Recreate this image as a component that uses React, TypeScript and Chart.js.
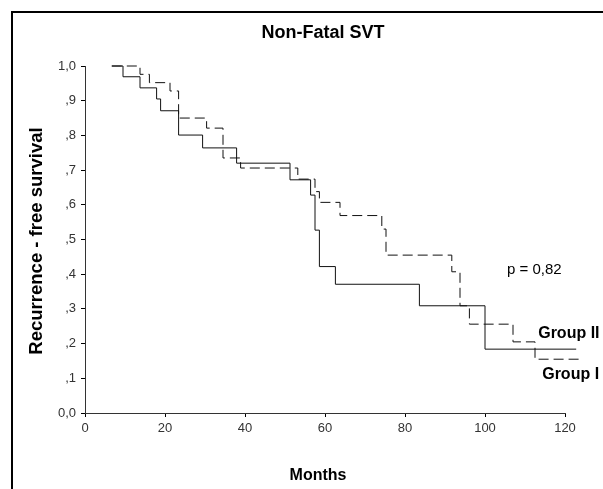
import React, { useEffect, useRef } from "react";
import { Chart, registerables } from "chart.js";

Chart.register(...registerables);

// Kaplan-Meier step curves (time in months, survival proportion after the drop)
const groupIITimes = [6.7, 9.5, 13.75, 17.9, 18.9, 23.4, 29.4, 37.9, 51.25, 56.4, 57.5, 58.6, 62.6, 83.6, 100, 122.8];
const groupIISurvival = [1.0, 0.969, 0.937, 0.905, 0.871, 0.801, 0.764, 0.72, 0.672, 0.628, 0.527, 0.422, 0.371, 0.309, 0.184, 0.184];

const groupITimes = [6.7, 13.75, 16.1, 21.25, 23.4, 30.4, 34.5, 38.9, 53.2, 57.5, 58.6, 63.75, 74.2, 75.25, 91.7, 93.75, 96.1, 107, 112.5, 123.5];
const groupISurvival = [1.0, 0.976, 0.952, 0.928, 0.85, 0.821, 0.735, 0.706, 0.674, 0.638, 0.607, 0.569, 0.53, 0.455, 0.407, 0.309, 0.256, 0.205, 0.155, 0.155];

const xTickValues = [0, 20, 40, 60, 80, 100, 120];
const yTickLabels = ["0,0", ",1", ",2", ",3", ",4", ",5", ",6", ",7", ",8", ",9", "1,0"];

const chartTitle = "Non-Fatal SVT";
const xTitle = "Months";
const yTitle = "Recurrence - free survival";
const pLabel = "p = 0,82";
const groupIILabel = "Group II";
const groupILabel = "Group I";

const FONT = "'Liberation Sans', Arial, sans-serif";

const decorPlugin = {
  id: "decor",
  afterDraw(chart: any) {
    const ctx = chart.ctx as CanvasRenderingContext2D;
    const xs = chart.scales.x;
    const ys = chart.scales.y;
    ctx.save();
    // frame
    ctx.fillStyle = "#000";
    ctx.fillRect(11, 11, 603 - 11, 2);
    ctx.fillRect(11, 11, 2, 489 - 11);
    // title
    ctx.fillStyle = "#000";
    ctx.textAlign = "center";
    ctx.textBaseline = "alphabetic";
    ctx.font = `bold 18px ${FONT}`;
    ctx.fillText(chartTitle, 323, 38);
    // x title
    ctx.font = `bold 16px ${FONT}`;
    ctx.fillText(xTitle, 318, 480);
    // y title
    ctx.save();
    ctx.translate(42, 241);
    ctx.rotate(-Math.PI / 2);
    ctx.font = `bold 18.5px ${FONT}`;
    ctx.fillText(yTitle, 0, 0);
    ctx.restore();
    // p label
    ctx.textAlign = "left";
    ctx.textBaseline = "middle";
    ctx.font = `15px ${FONT}`;
    ctx.fillText(pLabel, xs.getPixelForValue(105.5), ys.getPixelForValue(0.412));
    // group labels
    ctx.font = `bold 16px ${FONT}`;
    ctx.fillText(groupIILabel, xs.getPixelForValue(113.3), ys.getPixelForValue(0.23));
    ctx.fillText(groupILabel, xs.getPixelForValue(114.3), ys.getPixelForValue(0.11));
    ctx.restore();
  },
};

export default function App() {
  const canvasRef = useRef<HTMLCanvasElement | null>(null);

  useEffect(() => {
    if (!canvasRef.current) return;
    const toPoints = (t: number[], s: number[]) => t.map((x, i) => ({ x, y: s[i] }));
    const chart = new Chart(canvasRef.current, {
      type: "line",
      data: {
        datasets: [
          {
            label: groupIILabel,
            data: toPoints(groupIITimes, groupIISurvival),
            stepped: "before",
            borderColor: "#111",
            borderWidth: 1,
            pointRadius: 0,
            fill: false,
            clip: false as any,
          },
          {
            label: groupILabel,
            data: toPoints(groupITimes, groupISurvival),
            stepped: "before",
            borderColor: "#111",
            borderWidth: 1,
            borderDash: [10, 5],
            pointRadius: 0,
            fill: false,
            clip: false as any,
          },
        ],
      },
      options: {
        animation: false,
        responsive: true,
        maintainAspectRatio: false,
        layout: { padding: { top: 66, right: 38, left: 0, bottom: 0 } },
        plugins: {
          legend: { display: false },
          tooltip: { enabled: false },
          title: { display: false },
        },
        scales: {
          x: {
            type: "linear",
            min: 0,
            max: 120,
            afterFit: (s: any) => {
              s.height = 76;
            },
            afterBuildTicks: (s: any) => {
              s.ticks = xTickValues.map((v) => ({ value: v }));
            },
            ticks: {
              color: "#333",
              font: { family: FONT, size: 13 },
              padding: 4,
              maxRotation: 0,
              autoSkip: false,
            },
            grid: {
              drawOnChartArea: false,
              drawTicks: true,
              tickLength: 4,
              color: "#000",
            },
            border: { display: true, color: "#333", width: 1 },
          },
          y: {
            type: "linear",
            min: 0,
            max: 1,
            afterFit: (s: any) => {
              s.width = 85;
            },
            afterBuildTicks: (s: any) => {
              s.ticks = yTickLabels.map((_, i) => ({ value: i / 10 }));
            },
            ticks: {
              color: "#333",
              font: { family: FONT, size: 13 },
              padding: 5,
              autoSkip: false,
              callback: (_v: any, i: number) => yTickLabels[i],
            },
            grid: {
              drawOnChartArea: false,
              drawTicks: true,
              tickLength: 4,
              color: "#000",
            },
            border: { display: true, color: "#333", width: 1 },
          },
        },
      },
      plugins: [decorPlugin],
    });
    return () => chart.destroy();
  }, []);

  return (
    <div style={{ position: "fixed", left: 0, top: 0, width: 603, height: 489, background: "#fff" }}>
      <canvas ref={canvasRef} />
    </div>
  );
}
